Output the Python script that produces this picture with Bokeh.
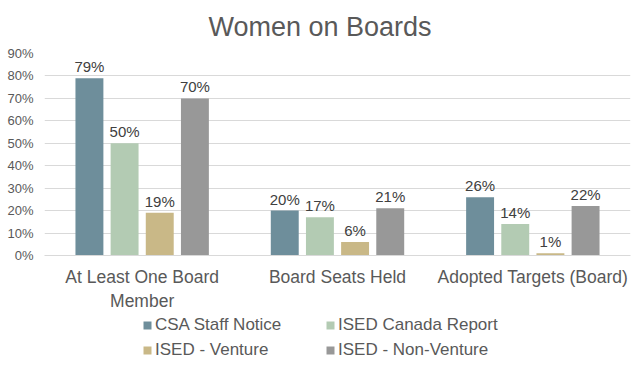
from bokeh.plotting import figure
from bokeh.layouts import column
from bokeh.models import (ColumnDataSource, FactorRange, Range1d, FixedTicker,
                          NumeralTickFormatter, Legend, LegendItem, LabelSet)
from bokeh.core.properties import value
from bokeh.transform import dodge
from bokeh.embed import file_html
from bokeh.resources import INLINE

categories = ["At Least One Board\nMember", "Board Seats Held", "Adopted Targets (Board)"]
series_names = ["CSA Staff Notice", "ISED Canada Report", "ISED - Venture", "ISED - Non-Venture"]
csa = [0.79, 0.20, 0.26]
ised_canada = [0.50, 0.17, 0.14]
ised_venture = [0.19, 0.06, 0.01]
ised_nonventure = [0.70, 0.21, 0.22]
colors = ["#6E8E9B", "#B3CBB3", "#C9B887", "#989898"]
y_ticks = [0, 0.1, 0.2, 0.3, 0.4, 0.5, 0.6, 0.7, 0.8, 0.9]

FONT = "Liberation Sans"

p = figure(width=640, height=313, output_backend="svg", toolbar_location=None,
           x_range=FactorRange(*categories, range_padding=0),
           y_range=Range1d(0, 0.9),
           min_border_left=44, min_border_right=10, min_border_top=53,
           min_border_bottom=58, title="Women on Boards")
p.outline_line_color = None
p.background_fill_color = "white"

p.title.align = "left"
p.title.vertical_align = "top"
p.title.text_font = FONT
p.title.text_font_size = "27px"
p.title.text_font_style = "normal"
p.title.text_color = "#595959"
p.title.offset = 164
p.title.standoff = 20

p.xgrid.grid_line_color = None
p.ygrid.grid_line_color = "#D9D9D9"
p.ygrid.grid_line_width = 1

p.yaxis.ticker = FixedTicker(ticks=y_ticks)
p.yaxis.formatter = NumeralTickFormatter(format="0%")
p.yaxis.axis_line_color = None
p.yaxis.major_tick_line_color = None
p.yaxis.minor_tick_line_color = None
p.yaxis.major_tick_out = 0
p.yaxis.major_label_text_font = FONT
p.yaxis.major_label_text_font_size = "13px"
p.yaxis.major_label_text_color = "#595959"
p.yaxis.major_label_standoff = 11

p.xaxis.axis_line_color = "#D9D9D9"
p.xaxis.major_tick_line_color = None
p.xaxis.minor_tick_line_color = None
p.xaxis.major_tick_out = 0
p.xaxis.major_label_text_font = FONT
p.xaxis.major_label_text_font_size = "17.5px"
p.xaxis.major_label_text_color = "#595959"
p.xaxis.major_label_standoff = 11

series = [csa, ised_canada, ised_venture, ised_nonventure]
offsets = [-0.27, -0.09, 0.09, 0.27]

# legend-only figure below the chart (its bars lie outside its visible range)
lf = figure(width=640, height=54, output_backend="svg", toolbar_location=None,
            min_border=0, min_border_left=0, min_border_right=0,
            min_border_top=0, min_border_bottom=0,
            x_range=FactorRange(*categories, range_padding=0),
            y_range=Range1d(1, 2))
lf.axis.visible = False
lf.grid.visible = False
lf.outline_line_color = None

items = []
for name, vals, col, off in zip(series_names, series, colors, offsets):
    src = ColumnDataSource(dict(cat=categories, val=vals,
                                lab=[f"{round(v*100)}%" for v in vals]))
    p.vbar(x=dodge("cat", off, range=p.x_range), top="val", width=0.143,
           source=src, fill_color=col, line_color=None)
    ls = LabelSet(x=dodge("cat", off, range=p.x_range), y="val", text="lab",
                  source=src, text_align="center", text_baseline="bottom",
                  y_offset=3, text_font=value(FONT), text_font_size=value("15px"),
                  text_color=value("#404040"))
    p.add_layout(ls)
    lr = lf.vbar(x=dodge("cat", off, range=lf.x_range), top="val", width=0.143,
                 source=src, fill_color=col, line_color=None)
    items.append(LegendItem(label=name, renderers=[lr]))

legend = Legend(items=items, location=(98, 7), ncols=2,
                orientation="horizontal",
                glyph_width=10, glyph_height=10, label_standoff=3,
                label_width=166, label_height=21, spacing=4,
                padding=0, margin=0, border_line_color=None,
                background_fill_alpha=0,
                label_text_font=FONT, label_text_font_size="17px",
                label_text_color="#595959")
lf.add_layout(legend, "center")

layout = column(p, lf, spacing=0)
open("out.html", "w").write(file_html(layout, INLINE))
